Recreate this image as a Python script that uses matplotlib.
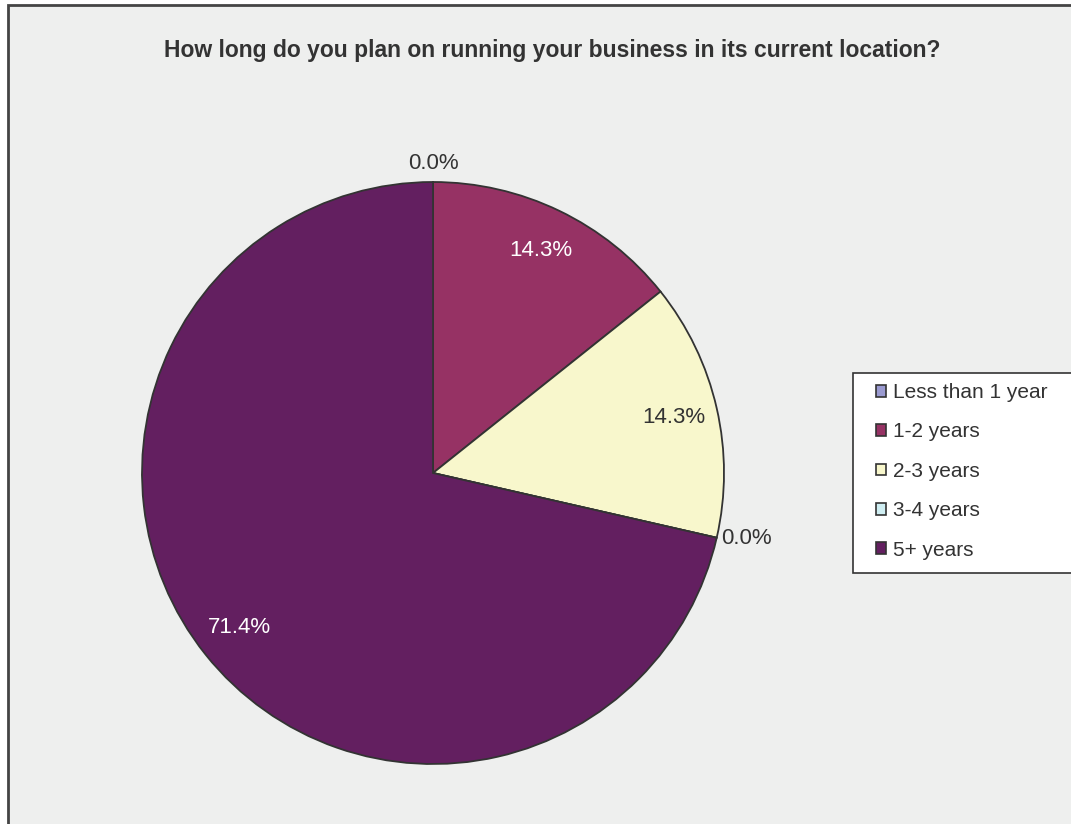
import numpy as np
import matplotlib.pyplot as plt
import matplotlib as mpl
from matplotlib.patches import Patch, Rectangle

mpl.rcParams['font.family'] = ['Liberation Sans', 'DejaVu Sans']

# Survey responses
categories = ["Less than 1 year", "1-2 years", "2-3 years", "3-4 years", "5+ years"]
counts = [0, 1, 1, 0, 5]
colors = ["#9a9ad0", "#963264", "#f8f7cc", "#cfeef2", "#631f60"]
label_colors = ["#333333", "white", "#333333", "#333333", "white"]

W, H = 1071, 824
fig = plt.figure(figsize=(W / 100, H / 100), dpi=100)
fig.patch.set_facecolor("white")

# chart area background with its frame
fig.patches.append(Rectangle((8 / W, -0.1), 1.2, 1.1 - 5 / H,
                             transform=fig.transFigure, facecolor="#eeefee",
                             edgecolor="#444444", linewidth=2, zorder=-5))

cx, cy, r = 433, 473, 291
ax = fig.add_axes([(cx - r) / W, (H - cy - r) / H, 2 * r / W, 2 * r / H])
ax.set_facecolor("none")

total = sum(counts)
wedges, _ = ax.pie(counts, colors=colors, startangle=90, counterclock=False,
                   radius=1.0,
                   wedgeprops=dict(edgecolor="#333333", linewidth=1.3))
ax.set_xlim(-1, 1)
ax.set_ylim(-1, 1)
ax.set_axis_off()

for w, n, col in zip(wedges, counts, label_colors):
    mid = np.deg2rad((w.theta1 + w.theta2) / 2)
    pct = f"{100 * n / total:.1f}%"
    if n == 0:
        # empty slices get their label just outside the rim
        if np.cos(mid) > 0.3:
            d, ha = 1.015, "left"
        else:
            d, ha = 1.065, "center"
    else:
        d, ha = 0.85, "center"
    ax.text(d * np.cos(mid), d * np.sin(mid), pct, ha=ha, va="center",
            fontsize=16, color=col, clip_on=False)

fig.text(552 / W, 1 - 50 / H,
         "How long do you plan on running your business in its current location?",
         ha="center", va="center", fontsize=16.5, fontweight="bold", color="#333333")

# legend box runs off the right edge
fig.patches.append(Rectangle((853 / W, 1 - 573 / H), 0.3, 200 / H,
                             transform=fig.transFigure, facecolor="white",
                             edgecolor="#333333", linewidth=1.2, zorder=1))

handles = [Patch(facecolor=c, edgecolor="#333333", linewidth=1.2) for c in colors]
leg = fig.legend(handles, categories, loc="upper left",
                 bbox_to_anchor=(876 / W, 1 - 383 / H), fontsize=15,
                 frameon=False, handlelength=0.5, handleheight=0.5,
                 handletextpad=0.3, labelspacing=0.98,
                 borderpad=0, borderaxespad=0)
leg.set_zorder(2)
for t in leg.get_texts():
    t.set_color("#333333")

fig.savefig("out.png", dpi=100, facecolor=fig.get_facecolor())
